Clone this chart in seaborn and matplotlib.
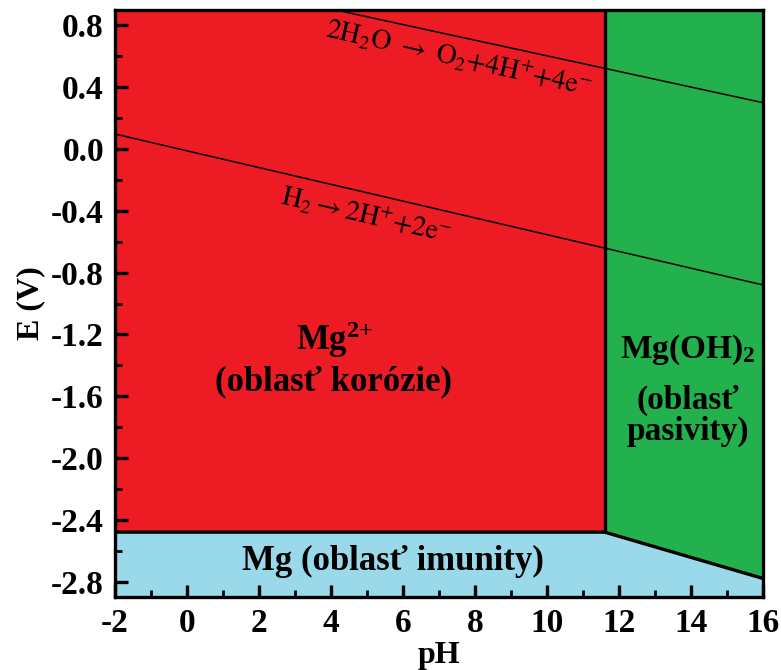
import matplotlib
matplotlib.use("Agg")
import matplotlib.pyplot as plt
import seaborn as sns
import pandas as pd
import numpy as np

# ---- data ----
ph_limits = [-2, 16]
E_limits = [-2.9, 0.9]
x_ticks = [-2, 0, 2, 4, 6, 8, 10, 12, 14, 16]
y_ticks = [0.8, 0.4, 0.0, -0.4, -0.8, -1.2, -1.6, -2.0, -2.4, -2.8]
y_tick_labels = ["0.8", "0.4", "0.0", "-0.4", "-0.8", "-1.2", "-1.6", "-2.0", "-2.4", "-2.8"]

pH_hydrolysis = 11.6          # Mg2+ / Mg(OH)2 boundary
E_mg = -2.48                   # Mg / Mg2+ boundary
E_mg_oh_end = -2.78            # Mg / Mg(OH)2 boundary at pH 16

h2_pH = [-2, 16]
h2_E = [0.097, -0.88]
o2_pH = [-2, 16]
o2_E = [1.21, 0.30]

red = "#ED1C24"
green = "#22B14C"
blue = "#99D9EA"

sns.set_theme(style="white")
plt.rcParams["font.family"] = ["Liberation Serif", "DejaVu Serif"]
plt.rcParams["mathtext.fontset"] = "custom"
plt.rcParams["mathtext.rm"] = "Liberation Serif"
plt.rcParams["mathtext.it"] = "Liberation Serif:italic"
plt.rcParams["mathtext.bf"] = "Liberation Serif:bold"
plt.rcParams["text.color"] = "black"

fig = plt.figure(figsize=(7.81, 6.70), dpi=100)
ax = fig.add_axes([115/781, (670-597)/670, (763-115)/781, (597-10)/670])
ax.set_axisbelow(False)

x0, x1 = ph_limits
y0, y1 = E_limits

# regions
ax.fill([x0, pH_hydrolysis, pH_hydrolysis, x0], [E_mg, E_mg, y1, y1], color=red, lw=0, zorder=1)
ax.fill([pH_hydrolysis, x1, x1, pH_hydrolysis], [E_mg, E_mg_oh_end, y1, y1], color=green, lw=0, zorder=1)
ax.fill([x0, pH_hydrolysis, x1, x1, x0], [E_mg, E_mg, E_mg_oh_end, y0, y0], color=blue, lw=0, zorder=1)

# boundaries
bd = pd.DataFrame({"pH": [x0, pH_hydrolysis, x1], "E": [E_mg, E_mg, E_mg_oh_end]})
sns.lineplot(data=bd, x="pH", y="E", ax=ax, color="black", lw=2.4, sort=False, zorder=3)
vd = pd.DataFrame({"pH": [pH_hydrolysis, pH_hydrolysis], "E": [E_mg, y1]})
sns.lineplot(data=vd, x="pH", y="E", ax=ax, color="black", lw=2.4, sort=False, zorder=3,
             estimator=None)

# water lines
sns.lineplot(x=h2_pH, y=h2_E, ax=ax, color="black", lw=1.1, zorder=2)
sns.lineplot(x=o2_pH, y=o2_E, ax=ax, color="black", lw=1.1, zorder=2)

ax.set_xlim(x0, x1)
ax.set_ylim(y0, y1)

ax.set_xticks(x_ticks)
ax.set_xticklabels([str(t) for t in x_ticks])
ax.set_yticks(y_ticks)
ax.set_yticklabels(y_tick_labels)
ax.set_xticks(np.arange(-1, 16, 2), minor=True)
ax.set_yticks(np.arange(-2.6, 0.9, 0.4), minor=True)
ax.tick_params(axis="both", which="major", direction="in", length=9, width=2.4,
               labelsize=24, pad=8, color="black", labelcolor="black", left=True, bottom=True)
ax.tick_params(axis="both", which="minor", direction="in", length=5, width=2.0,
               color="black", left=True, bottom=True)
for lab in ax.get_xticklabels() + ax.get_yticklabels():
    lab.set_fontweight("bold")
for s in ax.spines.values():
    s.set_linewidth(2.4)
    s.set_color("black")
    s.set_zorder(5)

ax.set_xlabel("pH", fontsize=23, fontweight="bold", color="black", labelpad=1)
ax.set_ylabel("E (V)", fontsize=23, fontweight="bold", color="black", labelpad=4)

# labels
ax.text(7.55, 0.585, r"$\mathrm{2H_2O}\ \rightarrow\ \mathrm{O_2{+}4H^{+}{+}4e^{-}}$",
        fontsize=20, rotation=-12.6, math_fontfamily="stix",
        ha="center", va="center", rotation_mode="anchor", zorder=4)
ax.text(4.97, -0.43, r"$\mathrm{H_2{\rightarrow}2H^{+}{+}2e^{-}}$",
        fontsize=20, rotation=-13, math_fontfamily="stix",
        ha="center", va="center", rotation_mode="anchor", zorder=4)
ax.text(4.1, -1.236, r"$\mathbf{Mg^{2{+}}}$", fontsize=25, ha="center", va="center", zorder=4)
ax.text(4.06, -1.51, "(oblasť korózie)", fontsize=25, fontweight="bold", ha="center", va="center", zorder=4)
ax.text(13.92, -1.30, r"Mg(OH)$_{\mathbf{2}}$", fontsize=24, fontweight="bold", ha="center", va="center", zorder=4)
ax.text(13.92, -1.624, "(oblasť", fontsize=24, fontweight="bold", ha="center", va="center", zorder=4)
ax.text(13.92, -1.83, "pasivity)", fontsize=24, fontweight="bold", ha="center", va="center", zorder=4)
ax.text(5.72, -2.673, "Mg (oblasť imunity)", fontsize=25, fontweight="bold", ha="center", va="center", zorder=4)

fig.savefig("out.png", dpi=100)
